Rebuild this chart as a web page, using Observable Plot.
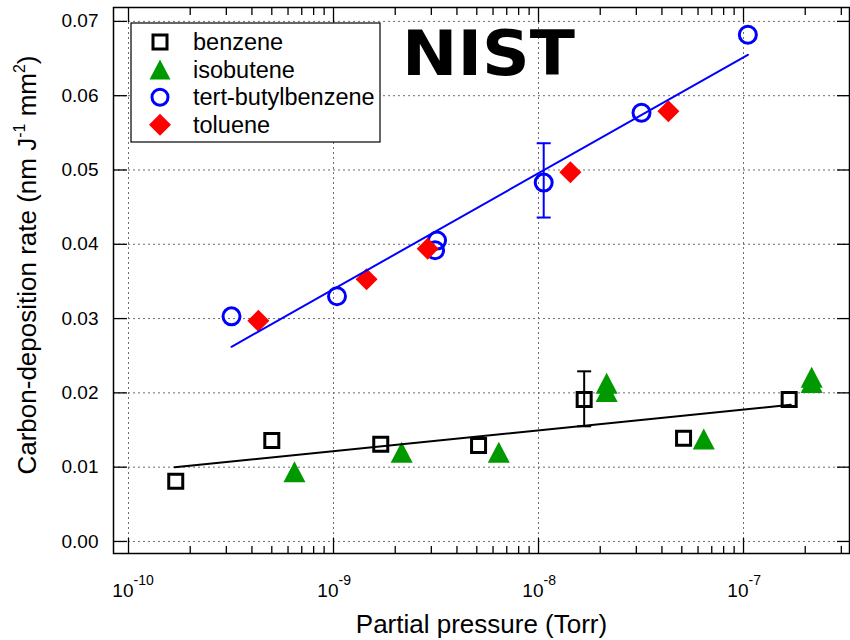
<!DOCTYPE html>
<html>
<head>
<meta charset="utf-8">
<script src="https://cdn.jsdelivr.net/npm/d3@7"></script>
<script src="https://cdn.jsdelivr.net/npm/@observablehq/plot@0.6"></script>
<style>
  body { margin: 0; background: #fff; }
  svg { font-family: "Liberation Sans", Arial, sans-serif; }
</style>
</head>
<body>
<div id="chart"></div>
<script>
// Carbon-deposition rate (nm J^-1 mm^2) versus partial pressure (Torr)
const seriesNames = ["benzene", "isobutene", "tert-butylbenzene", "toluene"];

const benzeneP    = [1.7e-10, 5.0e-10, 1.7e-9, 5.1e-9, 1.67e-8, 5.1e-8, 1.67e-7];
const benzeneRate = [0.0081, 0.0136, 0.0131, 0.0129, 0.0191, 0.0139, 0.0191];

const isobuteneP    = [6.45e-10, 2.15e-9, 6.4e-9, 2.15e-8, 2.15e-8, 6.4e-8, 2.15e-7, 2.15e-7];
const isobuteneRate = [0.0094, 0.0120, 0.0120, 0.0213, 0.0202, 0.0138, 0.0221, 0.0214];

const tbbP    = [3.18e-10, 1.04e-9, 3.2e-9, 3.13e-9, 1.06e-8, 3.18e-8, 1.05e-7];
const tbbRate = [0.0303, 0.0330, 0.0405, 0.0392, 0.0483, 0.0577, 0.0682];

const tolueneP    = [4.3e-10, 1.45e-9, 2.88e-9, 1.43e-8, 4.3e-8];
const tolueneRate = [0.0297, 0.0353, 0.0394, 0.0497, 0.0579];

// straight-line fits against log pressure (end points)
const benzeneFitP    = [1.68e-10, 1.7e-7];
const benzeneFitRate = [0.0100, 0.0184];
const tbbFitP        = [3.18e-10, 1.05e-7];
const tbbFitRate     = [0.0262, 0.0655];

// representative error bars
const errP     = [1.67e-8, 1.06e-8];
const errLow   = [0.0155, 0.0436];
const errHigh  = [0.0229, 0.0536];
const errColor = ["black", "blue"];

// axis ticks
const xDecades = [1e-10, 1e-9, 1e-8, 1e-7];
const yTicks = [0.00, 0.01, 0.02, 0.03, 0.04, 0.05, 0.06, 0.07];

// marker shapes
const sqr = { draw(ctx, size) { const r = Math.sqrt(size / Math.PI); ctx.rect(-r, -r, 2 * r, 2 * r); } };
const tri = { draw(ctx, size) { const r = Math.sqrt(size / Math.PI);
  ctx.moveTo(0, -r); ctx.lineTo(1.05 * r, r); ctx.lineTo(-1.05 * r, r); ctx.closePath(); } };
const dia = { draw(ctx, size) { const r = Math.sqrt(size / Math.PI);
  ctx.moveTo(0, -r); ctx.lineTo(r, 0); ctx.lineTo(0, r); ctx.lineTo(-r, 0); ctx.closePath(); } };
const cap = { draw(ctx, size) { const r = Math.sqrt(size / Math.PI); ctx.moveTo(-r, 0); ctx.lineTo(r, 0); } };

const W = 850, H = 640, mL = 113, mR = 1, mT = 7, mB = 87;
const innerW = W - mL - mR, innerH = H - mT - mB;
const xMin = Math.pow(10, -10.0732), xMax = Math.pow(10, -6.483);
const xMinor = xDecades.flatMap(d => d3.range(2, 10).map(k => d * k)).filter(v => v < xMax);

const green = "#009a00";
const gridStyle = { stroke: "#6e6e6e", strokeOpacity: 1, strokeDasharray: "2,3", strokeWidth: 1 };

const chart = Plot.plot({
  width: W, height: H,
  marginLeft: mL, marginRight: mR, marginTop: mT, marginBottom: mB,
  style: { fontFamily: '"Liberation Sans", Arial, sans-serif', background: "white" },
  x: { type: "log", domain: [xMin, xMax], axis: null },
  y: { domain: [-0.00162, 0.07187], axis: null },
  color: { type: "identity" },
  marks: [
    Plot.gridX(xDecades, gridStyle),
    Plot.gridY(yTicks, gridStyle),

    Plot.dot(benzeneP, { x: benzeneP, y: benzeneRate, symbol: sqr, r: 7, stroke: "black", strokeWidth: 3, fill: "none" }),
    Plot.dot(isobuteneP, { x: isobuteneP, y: isobuteneRate, symbol: tri, r: 10.5, fill: green }),
    Plot.dot(tbbP, { x: tbbP, y: tbbRate, symbol: "circle", r: 8.5, stroke: "blue", strokeWidth: 3, fill: "none" }),
    Plot.dot(tolueneP, { x: tolueneP, y: tolueneRate, symbol: dia, r: 11, fill: "red" }),

    Plot.line(benzeneFitP, { x: benzeneFitP, y: benzeneFitRate, stroke: "black", strokeWidth: 2 }),
    Plot.line(tbbFitP, { x: tbbFitP, y: tbbFitRate, stroke: "blue", strokeWidth: 2 }),

    Plot.ruleX(errP, { x: errP, y1: errLow, y2: errHigh, stroke: errColor, strokeWidth: 2 }),
    Plot.dot(errP, { x: errP, y: errLow, symbol: cap, r: 7, stroke: errColor, strokeWidth: 2 }),
    Plot.dot(errP, { x: errP, y: errHigh, symbol: cap, r: 7, stroke: errColor, strokeWidth: 2 }),

    Plot.frame({ stroke: "black", strokeWidth: 1.5 }),

    // inward ticks on all four sides
    Plot.ruleX(xDecades, { insetTop: innerH - 15, stroke: "black", strokeWidth: 1.3 }),
    Plot.ruleX(xDecades, { insetBottom: innerH - 15, stroke: "black", strokeWidth: 1.3 }),
    Plot.ruleX(xMinor, { insetTop: innerH - 7, stroke: "black", strokeWidth: 1.3 }),
    Plot.ruleX(xMinor, { insetBottom: innerH - 8, stroke: "black", strokeWidth: 1.3 }),
    Plot.ruleY(yTicks, { insetRight: innerW - 14, stroke: "black", strokeWidth: 1.3 }),
    Plot.ruleY(yTicks, { insetLeft: innerW - 12, stroke: "black", strokeWidth: 1.3 }),

    // tick labels
    Plot.text(yTicks, { y: d => d, frameAnchor: "left", dx: -15, textAnchor: "end",
      text: d => d.toFixed(2), fontSize: 19, fill: "black" }),
    Plot.text(xDecades, { x: d => d, frameAnchor: "bottom", dx: 5, dy: 43, textAnchor: "end",
      text: () => "10", fontSize: 19, fill: "black" }),
    Plot.text(xDecades, { x: d => d, frameAnchor: "bottom", dx: 5, dy: 31, textAnchor: "start",
      text: d => String(Math.round(Math.log10(d))), fontSize: 14, fill: "black" }),

    // x-axis title
    Plot.text(["Partial pressure (Torr)"], { frameAnchor: "bottom", dy: 79, text: d => d,
      fontSize: 26, fill: "black" })
  ]
});

document.getElementById("chart").appendChild(chart);
const svg = d3.select(chart);

// y-axis title with superscripts
const yt = svg.append("text")
  .attr("transform", "translate(36,265) rotate(-90)")
  .attr("text-anchor", "middle")
  .attr("font-size", 26)
  .attr("fill", "black");
yt.append("tspan").text("Carbon-deposition rate (nm J");
yt.append("tspan").attr("dy", -11).attr("font-size", 16).text("-1");
yt.append("tspan").attr("dy", 11).text(" mm");
yt.append("tspan").attr("dy", -11).attr("font-size", 16).text("2");
yt.append("tspan").attr("dy", 11).text(")");

// legend
const legendStyles = [
  { sym: sqr, r: 7, fill: "none", stroke: "black", sw: 3 },
  { sym: tri, r: 10, fill: green, stroke: "none", sw: 0 },
  { sym: d3.symbolCircle, r: 8, fill: "none", stroke: "blue", sw: 3 },
  { sym: dia, r: 11, fill: "red", stroke: "none", sw: 0 }
];
const lg = svg.append("g").attr("text-anchor", "start");
lg.append("rect").attr("x", 131).attr("y", 23).attr("width", 249).attr("height", 119)
  .attr("fill", "white").attr("stroke", "black").attr("stroke-width", 1.2);
seriesNames.forEach((name, i) => {
  const cy = 42 + i * 27.6;
  const s = legendStyles[i];
  lg.append("path")
    .attr("d", d3.symbol(s.sym, Math.PI * s.r * s.r)())
    .attr("transform", `translate(160,${cy})`)
    .attr("fill", s.fill).attr("stroke", s.stroke).attr("stroke-width", s.sw);
  lg.append("text").attr("x", 193).attr("y", cy).attr("dy", "0.35em")
    .attr("text-anchor", "start")
    .attr("font-size", 23.5).attr("fill", "black").text(name);
});

// institute logo
svg.append("text")
  .attr("x", 402).attr("y", 75)
  .attr("text-anchor", "start")
  .attr("font-family", '"DejaVu Sans", sans-serif')
  .attr("font-weight", "bold")
  .attr("font-size", 62)
  .attr("textLength", 173).attr("lengthAdjust", "spacingAndGlyphs")
  .attr("fill", "black")
  .text("NIST");
</script>
</body>
</html>
